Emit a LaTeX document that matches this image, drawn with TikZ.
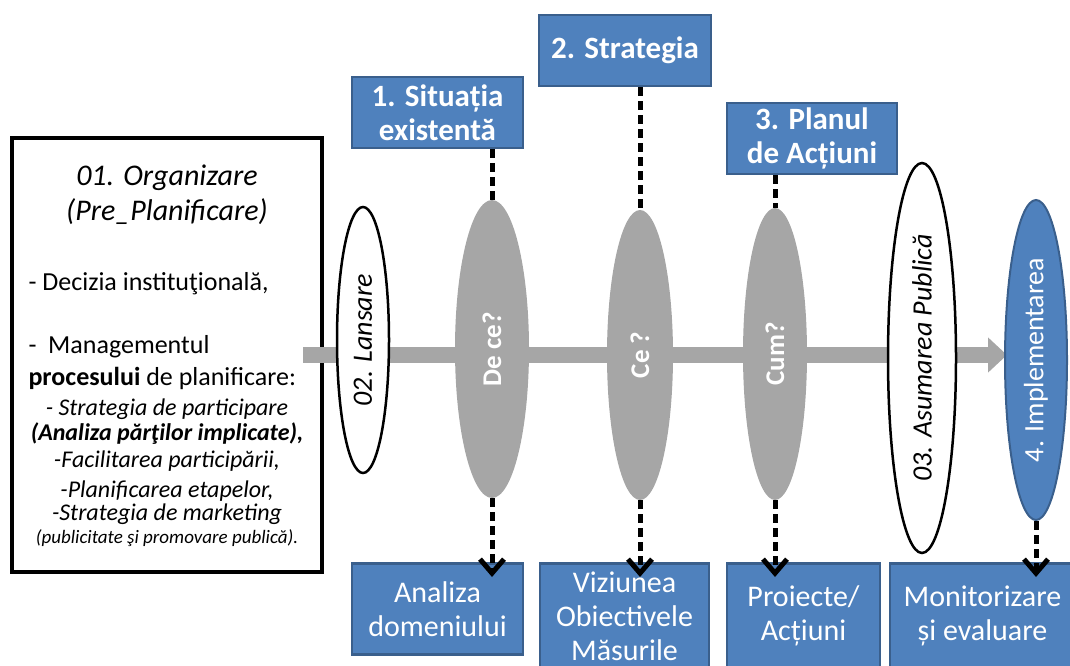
\documentclass[tikz,border=0pt]{standalone}
\usepackage{fontspec}
\setmainfont{Carlito}
\usetikzlibrary{shapes.geometric,arrows.meta}

\definecolor{albastru}{HTML}{4F81BD}
\definecolor{albastruinchis}{HTML}{3A5F8C}
\definecolor{gri}{HTML}{A6A6A6}

\tikzset{
  caseta/.style={draw=albastruinchis, line width=2.5pt, fill=albastru, text=white,
    align=center, inner sep=0pt, font=\fontsize{30}{34}\selectfont},
  titlu/.style={caseta, minimum height=71, font=\fontsize{31}{34}\selectfont\bfseries},
  elipsa/.style={ellipse, inner sep=0pt, font=\fontsize{28}{32}\selectfont},
  punctat/.style={black, line width=5pt, dash pattern=on 9pt off 5pt},
  sageata/.style={punctat, -{Straight Barb[length=14pt,width=24pt]}, shorten >=-15pt},
  lista/.style={anchor=base, font=\fontsize{24}{28}\selectfont\itshape},
}

\begin{document}
\begin{tikzpicture}[x=1pt, y=-1pt]

    \clip (0,0) rectangle (1070,666);

    % caseta din stanga
    \node[draw, line width=4pt, fill=white, minimum width=310, minimum height=434]
        (org) at (167,355) {};
    \node[anchor=base, font=\fontsize{30}{34}\selectfont\itshape] (org1) at (167,185) {01. Organizare};
    \node[anchor=base, font=\fontsize{30}{34}\selectfont\itshape] (org2) at (167,220) {(Pre\_Planificare)};
    \node[anchor=base west, font=\fontsize{26}{30}\selectfont] (org3) at (25,290) {- Decizia instituţională,};
    \node[anchor=base west, font=\fontsize{26}{30}\selectfont] (org4) at (25,353) {-\ \ Managementul};
    \node[anchor=base west, font=\fontsize{26}{30}\selectfont] (org5) at (25,385) {\textbf{procesului} de planificare:};
    \node[lista] (org6) at (167,415) {- Strategia de participare};
    \node[lista, font=\fontsize{24}{28}\selectfont\itshape\bfseries] (org7) at (167,440) {(Analiza părţilor implicate),};
    \node[lista] (org8) at (167,467) {-Facilitarea participării,};
    \node[lista] (org9) at (167,497) {-Planificarea etapelor,};
    \node[lista] (org10) at (167,520) {-Strategia de marketing};
    \node[lista, font=\fontsize{19}{22}\selectfont\itshape] (org11) at (167,543) {(publicitate şi promovare publică).};

    % sageata gri
    \coordinate (varf) at (1007,355);
    \draw[gri, line width=16pt, -{Triangle[length=19pt,width=34pt]}, shorten <=-21pt] (org.east) -- (varf);

    % elipsele
    \node[elipsa, draw, line width=2.5pt, fill=white, minimum width=52, minimum height=266]
        (lans) at (363,340) {\rotatebox{90}{\itshape 02. Lansare}};
    \node[elipsa, fill=gri, text=white, minimum width=74, minimum height=298, font=\fontsize{27}{32}\selectfont\bfseries]
        (dece) at (492,349) {\rotatebox{90}{De ce?}};
    \node[elipsa, fill=gri, text=white, minimum width=66, minimum height=290, font=\fontsize{27}{32}\selectfont\bfseries]
        (ce) at (640,355) {\rotatebox{90}{Ce ?}};
    \node[elipsa, fill=gri, text=white, minimum width=64, minimum height=292, font=\fontsize{27}{32}\selectfont\bfseries]
        (cum) at (775,354) {\rotatebox{90}{Cum?}};
    \node[elipsa, draw, line width=2.5pt, fill=white, minimum width=68, minimum height=390]
        (asum) at (922,358) {\rotatebox{90}{\itshape 03. Asumarea Publică}};
    \node[elipsa, draw=albastruinchis, line width=2pt, fill=albastru, text=white, minimum width=62, minimum height=320]
        (impl) at (1036,360) {\rotatebox{90}{4. Implementarea}};

    % casete de sus
    \node[titlu, minimum width=171] (sit) at (437.5,112.5) {1. Situația\\existentă};
    \node[titlu, minimum width=172] (str) at (625,50.5) {2. Strategia};
    \node[titlu, minimum width=170] (plan) at (812,138.5) {3. Planul\\de Acțiuni};

    % casete de jos
    \node[caseta, anchor=north, minimum width=171, minimum height=91]
        (anal) at (437.5,562) {Analiza\\domeniului};
    \node[caseta, anchor=north, minimum width=169, minimum height=106]
        (viz) at (624.5,562) {Viziunea\\Obiectivele\\Măsurile};
    \node[caseta, anchor=north, minimum width=153, minimum height=106]
        (proi) at (803.5,562) {Proiecte/\\Acțiuni};
    \node[caseta, anchor=north, minimum width=185, minimum height=106]
        (mon) at (982.5,562) {Monitorizare\\și evaluare};

    % linii punctate
    \draw[punctat] (sit.south -| dece.north) -- (dece.north);
    \draw[punctat] (str.south -| ce.north) -- (ce.north);
    \draw[punctat] (plan.south -| cum.north) -- (cum.north);

    \draw[sageata] (dece.south) -- (dece.south |- anal.north);
    \draw[sageata] (ce.south) -- (ce.south |- viz.north);
    \draw[sageata] (cum.south) -- (cum.south |- proi.north);
    \draw[sageata] (impl.south) -- (impl.south |- mon.north);

\end{tikzpicture}
\end{document}
